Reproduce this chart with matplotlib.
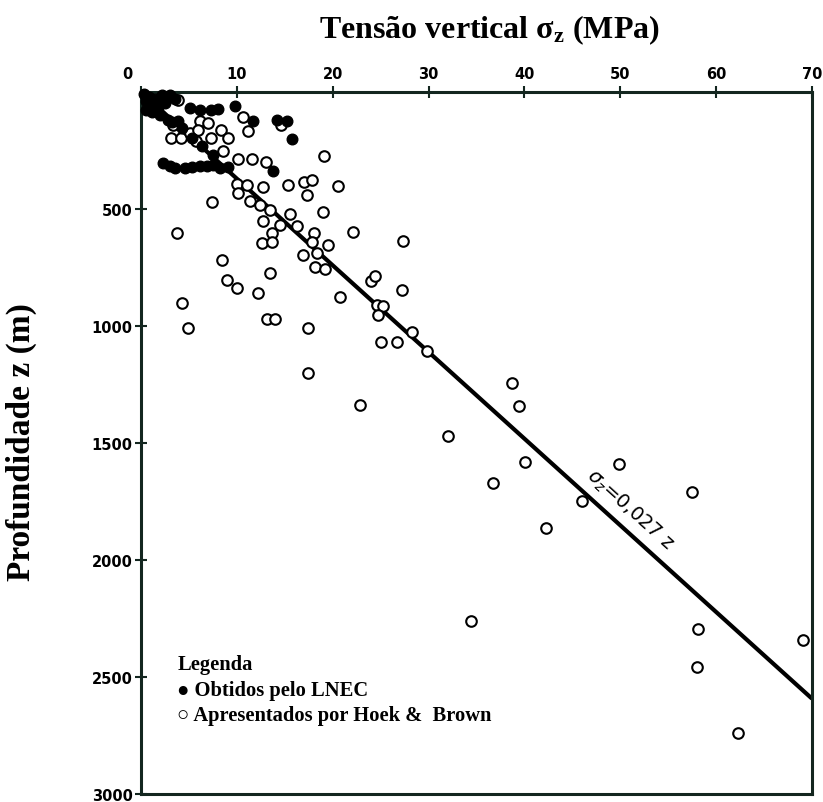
import numpy as np
import matplotlib
matplotlib.use("Agg")
import matplotlib.pyplot as plt
import matplotlib.transforms as mtransforms

plt.rcParams["mathtext.fontset"] = "custom"
plt.rcParams["mathtext.bf"] = "Liberation Serif:bold"
plt.rcParams["mathtext.rm"] = "Liberation Serif"

# Measurements presented by Hoek & Brown (vertical stress MPa, depth m)
hb_sigma = [1.8, 3.3, 3.1, 4.2, 5.1, 6.2, 7.0, 6.0, 5.7, 7.3, 8.4, 9.1, 8.6, 10.6,
            11.2, 14.6, 10.1, 11.6, 13.0, 19.1, 10.0, 11.1, 12.7, 15.3, 17.0, 17.8,
            17.3, 20.6, 10.1, 11.4, 7.4, 12.4, 13.5, 19.0, 15.5, 12.7, 14.5, 16.3,
            22.1, 3.8, 13.7, 12.6, 13.7, 18.1, 19.5, 17.8, 16.9, 18.4, 8.5, 18.2,
            19.2, 13.5, 9.0, 10.0, 12.2, 20.8, 27.3, 24.0, 24.4, 27.2, 24.6, 25.2,
            24.7, 28.3, 25.0, 26.7, 29.8, 4.3, 4.9, 13.1, 14.0, 17.4, 17.4, 22.9,
            38.7, 39.4, 32.0, 40.1, 36.7, 49.9, 57.5, 46.0, 42.3, 34.4, 58.1, 58.0,
            69.1, 62.3, 2.8, 3.9, 1.2]
hb_depth = [47, 141, 196, 196, 175, 124, 132, 162, 209, 196, 162, 196, 252, 107,
            166, 141, 286, 286, 299, 273, 393, 397, 405, 397, 384, 376,
            440, 401, 431, 465, 469, 482, 504, 512, 521, 551, 568, 572,
            598, 602, 602, 644, 640, 602, 653, 640, 696, 687, 717, 747,
            755, 773, 802, 837, 858, 875, 636, 807, 785, 845, 909, 913,
            952, 1024, 1067, 1067, 1105, 901, 1007, 969, 969, 1007, 1199, 1336,
            1242, 1340, 1472, 1583, 1673, 1588, 1711, 1746, 1865, 2262, 2296, 2458,
            2343, 2740, 22, 35, 70]

# Measurements obtained by LNEC
lnec_sigma = [0.3, 0.8, 1.5, 0.5, 1.0, 0.5, 1.2, 2.0, 2.8, 2.5, 3.6, 3.0, 1.8, 2.2,
              3.9, 5.1, 6.2, 7.3, 8.0, 9.8, 11.7, 14.2, 15.2, 15.8, 13.8, 3.2,
              4.3, 5.3, 6.4, 7.5, 2.3, 3.0, 3.6, 4.6, 5.3, 6.2, 6.9, 7.5, 8.2, 9.1]
lnec_depth = [10, 20, 30, 40, 55, 75, 85, 100, 120, 45, 30, 12, 65, 15,
              125, 68, 77, 77, 73, 60, 124, 120, 124, 200, 337, 128,
              154, 196, 230, 269, 303, 316, 324, 324, 320, 316, 316, 312, 324, 320]

# Linear trend sigma_z = 0.027 z
coef = 0.027
trend_sigma = np.array([0.0, 70.0])
trend_depth = trend_sigma / coef

x_ticks = [0, 10, 20, 30, 40, 50, 60, 70]
y_ticks = [500, 1000, 1500, 2000, 2500, 3000]

axis_color = "#13261f"
serif = ["Liberation Serif", "DejaVu Serif", "DejaVu Sans"]

fig = plt.figure(figsize=(8.23, 8.03), dpi=100)
ax = fig.add_axes([0.1713, 0.0100, 0.8153, 0.8742])

ax.plot(trend_sigma, trend_depth, color="black", lw=3.0, solid_capstyle="butt", zorder=2)
ax.scatter(hb_sigma, hb_depth, s=58, facecolors="white", edgecolors="black",
           linewidths=1.5, zorder=3, clip_on=False)
ax.scatter(lnec_sigma, lnec_depth, s=58, facecolors="black", edgecolors="black",
           linewidths=1.0, zorder=4, clip_on=False)

ax.set_xlim(0, 70)
ax.set_ylim(3000, 0)
ax.set_xticks(x_ticks)
ax.set_yticks(y_ticks)
ax.xaxis.tick_top()
ax.tick_params(axis="x", which="both", direction="inout", length=8, width=1.5,
               colors=axis_color, labelcolor="black", pad=4,
               labelsize=10.5, top=True, bottom=False)
ax.tick_params(axis="y", which="both", direction="inout", length=8, width=1.5,
               colors=axis_color, labelcolor="black", pad=2,
               labelsize=10.5, left=True, right=False)
for lab in ax.get_xticklabels() + ax.get_yticklabels():
    lab.set_fontweight("bold")
    lab.set_family("DejaVu Sans")

# the origin label sits a little left of the corner
t0 = ax.xaxis.get_major_ticks()[0]
t0.label2.set_transform(t0.label2.get_transform() +
                        mtransforms.ScaledTranslation(-0.14, 0, fig.dpi_scale_trans))

for sp in ax.spines.values():
    sp.set_color(axis_color)
    sp.set_linewidth(2.2)

# trend label along the line
p1 = ax.transData.transform((trend_sigma[0], trend_depth[0]))
p2 = ax.transData.transform((trend_sigma[1], trend_depth[1]))
angle = np.degrees(np.arctan2(p2[1] - p1[1], p2[0] - p1[0]))
ax.text(51.0, 1780, r"$\sigma_z$=0,027 z", rotation=angle, rotation_mode="anchor",
        ha="center", va="center", fontsize=14, color="black", zorder=5,
        family="DejaVu Sans")

# legend written as text
leg_kw = dict(transform=ax.transAxes, fontsize=14.8, fontweight="bold",
              family=serif, va="center", ha="left")
ax.text(0.054, 0.185, "Legenda", **leg_kw)
ax.text(0.054, 0.148, "\u25cf Obtidos pelo LNEC", **leg_kw)
ax.text(0.054, 0.112, "\u25cb Apresentados por Hoek &  Brown", **leg_kw)

fig.text(0.595, 0.962, r"Tensão vertical $\mathbf{σ_z}$ (MPa)", ha="center", va="center",
         fontsize=23, fontweight="bold", family=serif)
fig.text(0.026, 0.450, "Profundidade z (m)", ha="center", va="center", rotation=90,
         fontsize=24, fontweight="bold", family=serif)

fig.savefig("out.png", dpi=100)
